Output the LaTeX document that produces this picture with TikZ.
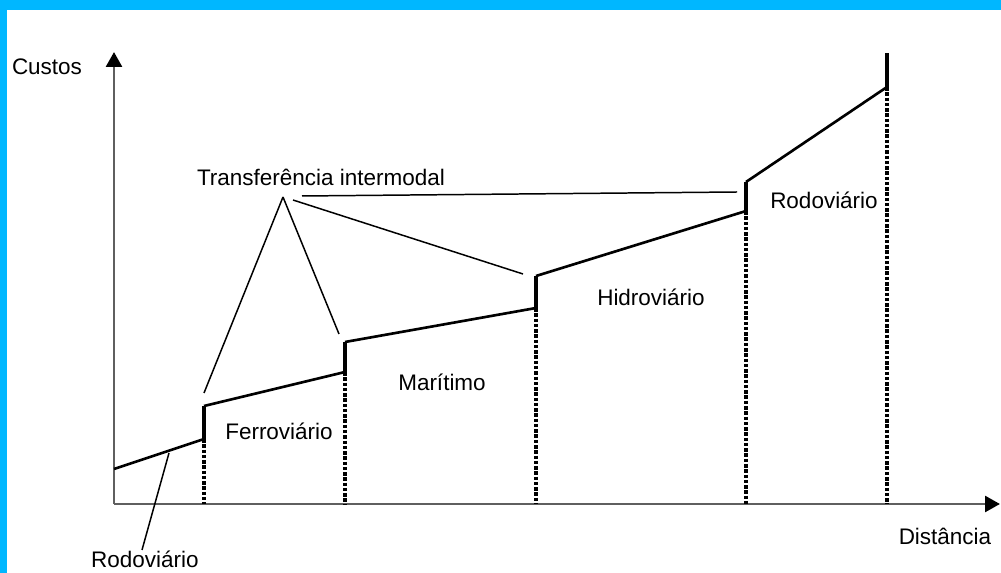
\documentclass[tikz,border=0pt]{standalone}
\usepackage{fontspec}
\setmainfont{Liberation Sans}
\usetikzlibrary{arrows.meta,positioning}
\definecolor{framecyan}{RGB}{0,183,255}
\definecolor{axisgray}{RGB}{95,95,95}

\begin{document}
\begin{tikzpicture}[x=0.02cm, y=-0.02cm, font=\fontsize{12.8}{15}\selectfont,
    axisline/.style={draw=axisgray, line width=1.7pt, -{Triangle[length=8.5pt, width=9pt, color=black]}},
    costline/.style={line width=1.5pt},
    stepline/.style={line width=2.3pt},
    dropline/.style={line width=2pt, dash pattern=on 2pt off 1pt},
    leader/.style={line width=0.85pt},
    lbl/.style={anchor=base, inner sep=0pt}]
    \useasboundingbox (0,0) rectangle (1001,573);
    \fill[framecyan] (0,0) rectangle (1001,10);
    \fill[framecyan] (0,0) rectangle (7,573);

    \coordinate (o) at (114,504);
    \coordinate (ytip) at (114,52);
    \coordinate (xtip) at (1000,504);
    \draw [axisline] (o) -- (ytip);
    \draw [axisline] (o) -- (xtip);

    \coordinate (r0) at (114,469);
    \coordinate (r1) at (204,439);
    \coordinate (f0) at (204,406);
    \coordinate (f1) at (345,372);
    \coordinate (m0) at (345,342);
    \coordinate (m1) at (536,308);
    \coordinate (h0) at (536,276);
    \coordinate (h1) at (746,211);
    \coordinate (d0) at (746,182);
    \coordinate (d1) at (887,87);
    \coordinate (dtop) at (887,53);

    \draw [costline] (r0) -- (r1);
    \draw [costline] (f0) -- (f1);
    \draw [costline] (m0) -- (m1);
    \draw [costline] (h0) -- (h1);
    \draw [costline] (d0) -- (d1);
    \draw [stepline] (r1) -- (f0);
    \draw [stepline] (f1) -- (m0);
    \draw [stepline] (m1) -- (h0);
    \draw [stepline] (h1) -- (d0);
    \draw [stepline] (d1) -- (dtop);

    \draw [dropline] (r1) -- (r1 |- o);
    \draw [dropline] (f1) -- (f1 |- o);
    \draw [dropline] (m1) -- (m1 |- o);
    \draw [dropline] (h1) -- (h1 |- o);
    \draw [dropline] (d1) -- (d1 |- o);

    \node [lbl] (custos) at (47,75) {Custos};
    \node [lbl] (distancia) at (945,545) {Distância};
    \node [lbl] (ferro) at (279,440) {Ferroviário};
    \node [lbl] (maritimo) at (442,391) {Marítimo};
    \node [lbl] (hidro) at (651,306) {Hidroviário};
    \node [lbl] (rodoB) at (824,209) {Rodoviário};
    \node [lbl] (rodoA) at (145,568) {Rodoviário};
    \node [lbl] (transf) at (321,186) {Transferência intermodal};

    \coordinate (apex) at (283,197);
    \coordinate (apexB) at (293,200);
    \coordinate (apexC) at (302,196);
    \coordinate (tF) at (204,393);
    \coordinate (tM) at (339,334);
    \coordinate (tH) at (523,274);
    \coordinate (tR) at (737,192);
    \coordinate (rA) at (169,453);
    \coordinate (rB) at (142,550);
    \draw [leader] (apex) -- (tF);
    \draw [leader] (apex) -- (tM);
    \draw [leader] (apexB) -- (tH);
    \draw [leader] (apexC) -- (tR);
    \draw [leader] (rA) -- (rB);
\end{tikzpicture}
\end{document}
